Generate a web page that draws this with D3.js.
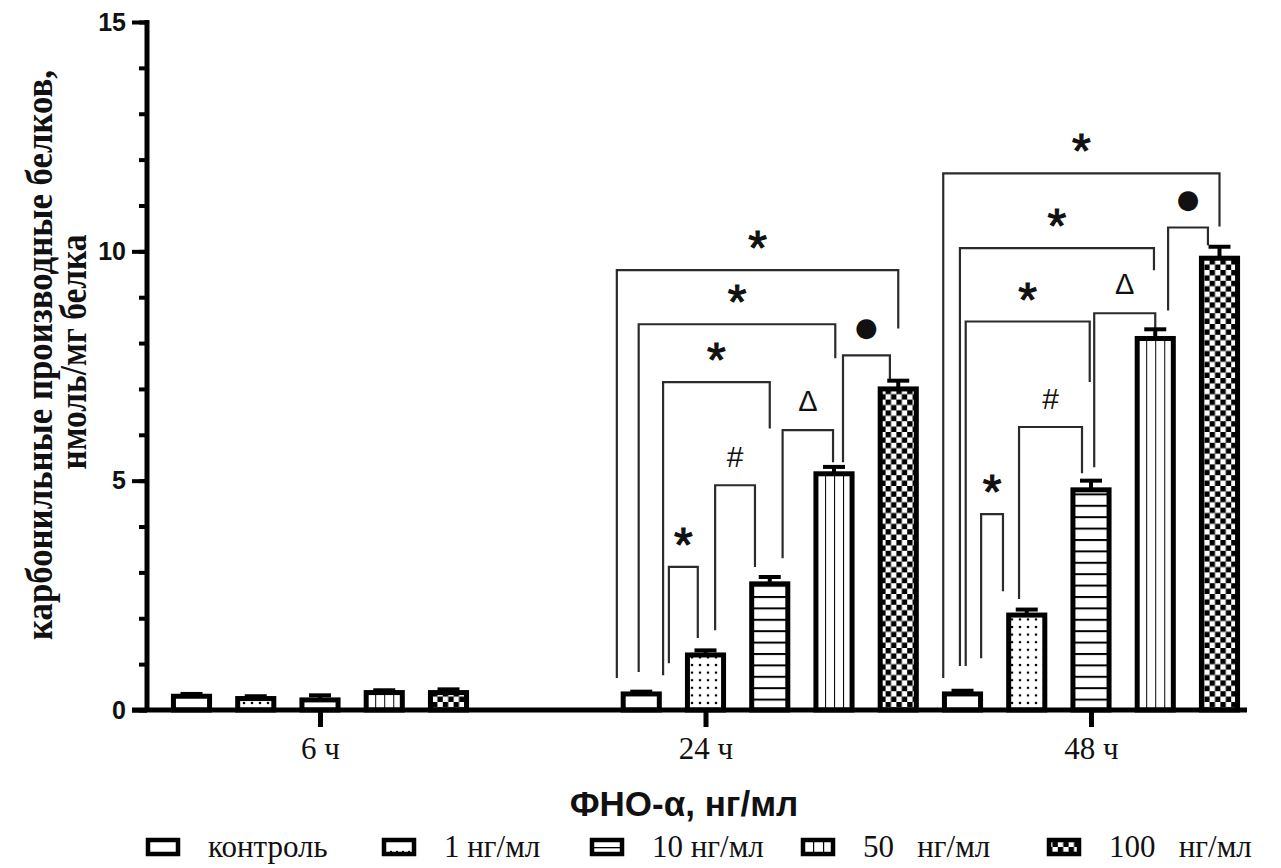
<!DOCTYPE html>
<html>
<head>
<meta charset="utf-8">
<script src="https://cdn.jsdelivr.net/npm/d3@7"></script>
<style>
  body { margin: 0; background: #fff; }
  svg { display: block; }
</style>
</head>
<body>
<div id="chart"></div>
<script>
// time points and doses
const timePoints = ["6 ч", "24 ч", "48 ч"];
const doses = ["контроль", "1 нг/мл", "10 нг/мл", "50 нг/мл", "100 нг/мл"];
const legendLabels = ["контроль", "1 нг/мл", "10 нг/мл", "50   нг/мл", "100   нг/мл"];

// mean values, dose order
const means6 = [0.30, 0.25, 0.22, 0.38, 0.38];
const means24 = [0.35, 1.20, 2.75, 5.15, 7.00];
const means48 = [0.35, 2.07, 4.80, 8.10, 9.85];

// error (upper only)
const errs6 = [0.05, 0.05, 0.10, 0.05, 0.07];
const errs24 = [0.05, 0.10, 0.15, 0.15, 0.18];
const errs48 = [0.07, 0.12, 0.20, 0.20, 0.25];

const yTicks = [0, 5, 10, 15];

// significance brackets: from slot, to slot, top, left leg end, right leg end, mark
const brackets = [
  [6.62, 11.00, 9.59, 0.70, 8.32, "*"],
  [6.96, 10.02, 8.41, 0.83, 7.67, "*"],
  [7.34, 9.00, 7.15, 0.76, 6.14, "*"],
  [7.43, 7.88, 3.12, 1.02, 1.57, "*"],
  [8.15, 8.77, 4.90, 1.74, 3.12, "#"],
  [9.20, 9.985, 6.10, 3.31, 5.40, "Δ"],
  [10.14, 10.87, 7.73, 5.40, 7.15, "●"],
  [11.70, 16.00, 11.70, 0.70, 10.54, "*"],
  [11.96, 14.98, 10.07, 0.96, 9.59, "*"],
  [12.05, 13.98, 8.47, 0.96, 7.15, "*"],
  [12.29, 12.63, 4.27, 1.13, 2.59, "*"],
  [12.88, 13.86, 6.17, 2.42, 5.16, "#"],
  [14.05, 15.00, 8.65, 5.29, 8.32, "Δ"],
  [15.20, 15.82, 10.52, 8.71, 10.13, "●"]
];

// layout: bar slot where each group starts, and slot of its axis tick
const groupStart = [0, 7, 12];
const tickSlot = [2, 8, 14];

const allMeans = [means6, means24, means48];
const allErrs = [errs6, errs24, errs48];
const fills = ["#fff", "url(#dots)", "url(#hlines)", "url(#vlines)", "url(#checker)"];
const legendFills = ["#fff", "url(#dotsL)", "url(#hlinesL)", "url(#vlinesL)", "url(#checker)"];

const bars = [];
timePoints.forEach((t, g) => {
  doses.forEach((d, i) => {
    bars.push({ time: t, dose: d, di: i, slot: groupStart[g] + i, value: allMeans[g][i], err: allErrs[g][i] });
  });
});

const width = 1281, height = 868;
const svg = d3.select("#chart").append("svg")
  .attr("width", width).attr("height", height)
  .style("background", "#fff");

// patterns
const defs = svg.append("defs");
const dots = defs.append("pattern").attr("id", "dots")
  .attr("patternUnits", "userSpaceOnUse").attr("width", 8).attr("height", 7.6);
dots.append("rect").attr("width", 8).attr("height", 7.6).attr("fill", "#fff");
dots.append("circle").attr("cx", 4).attr("cy", 3.8).attr("r", 1.3).attr("fill", "#000");

const dotsL = defs.append("pattern").attr("id", "dotsL")
  .attr("patternUnits", "userSpaceOnUse").attr("width", 6).attr("height", 20).attr("y", 839);
dotsL.append("rect").attr("width", 6).attr("height", 20).attr("fill", "#fff");
dotsL.append("circle").attr("cx", 3).attr("cy", 6).attr("r", 1.2).attr("fill", "#000");

const hl = defs.append("pattern").attr("id", "hlines")
  .attr("patternUnits", "userSpaceOnUse").attr("width", 10).attr("height", 11.4)
  .attr("y", 710);
hl.append("rect").attr("width", 10).attr("height", 11.4).attr("fill", "#fff");
hl.append("rect").attr("y", 0).attr("width", 10).attr("height", 2).attr("fill", "#000");

const hlL = defs.append("pattern").attr("id", "hlinesL")
  .attr("patternUnits", "objectBoundingBox").attr("width", 1).attr("height", 0.5);
hlL.append("rect").attr("width", 60).attr("height", 60).attr("fill", "#fff");
hlL.append("rect").attr("y", -1.2).attr("width", 60).attr("height", 2.5).attr("fill", "#000");

const vl = defs.append("pattern").attr("id", "vlines")
  .attr("patternUnits", "objectBoundingBox").attr("width", 0.25).attr("height", 1);
vl.append("rect").attr("width", 20).attr("height", 800).attr("fill", "#fff");
vl.append("rect").attr("x", -1).attr("width", 2).attr("height", 800).attr("fill", "#000");

const vlL = defs.append("pattern").attr("id", "vlinesL")
  .attr("patternUnits", "objectBoundingBox").attr("width", 1 / 3).attr("height", 1);
vlL.append("rect").attr("width", 20).attr("height", 60).attr("fill", "#fff");
vlL.append("rect").attr("x", -1.2).attr("width", 2.4).attr("height", 60).attr("fill", "#000");

const ck = defs.append("pattern").attr("id", "checker")
  .attr("patternUnits", "userSpaceOnUse").attr("width", 10.8).attr("height", 10.8);
ck.append("rect").attr("width", 10.8).attr("height", 10.8).attr("fill", "#fff");
ck.append("rect").attr("width", 5.4).attr("height", 5.4).attr("fill", "#000");
ck.append("rect").attr("x", 5.4).attr("y", 5.4).attr("width", 5.4).attr("height", 5.4).attr("fill", "#000");

// scales
const x = d3.scaleLinear().domain([0, 16]).range([191.5, 1219.5]);
const y = d3.scaleLinear().domain([0, 15]).range([710, 22]);
const step = x(1) - x(0);
const barW = step * 0.64;
const yAxisX = 147;

// brackets (drawn under bars)
const bracketG = svg.append("g").attr("fill", "none").attr("stroke", "#2b2b2b").attr("stroke-width", 2.2);
brackets.forEach(b => {
  const [s1, s2, top, e1, e2] = b;
  bracketG.append("path")
    .attr("d", `M${x(s1)},${y(e1)}V${y(top)}H${x(s2)}V${y(e2)}`);
});
const markDy = { "*": 22, "#": 10, "Δ": 9, "●": 9 };
const markFont = { "*": "Liberation Sans", "#": "Liberation Sans", "Δ": "Liberation Sans", "●": "DejaVu Sans" };
const markSize = { "*": 48, "#": 30, "Δ": 29, "●": 26 };
svg.append("g").selectAll("text")
  .data(brackets)
  .enter().append("text")
  .attr("x", d => x((d[0] + d[1]) / 2))
  .attr("y", d => y(d[2]) - 28 + markDy[d[5]])
  .attr("text-anchor", "middle")
  .attr("font-family", d => markFont[d[5]])
  .attr("font-size", d => markSize[d[5]])
  .attr("stroke", d => d[5] === "*" ? "#111" : "none")
  .attr("stroke-width", 1.2)
  .attr("fill", "#111")
  .text(d => d[5]);

// bars
const bw = 5;
svg.append("g").selectAll("rect")
  .data(bars)
  .enter().append("rect")
  .attr("x", d => x(d.slot) - barW / 2 + bw / 2)
  .attr("y", d => y(d.value))
  .attr("width", barW - bw)
  .attr("height", d => y(0) - y(d.value))
  .attr("fill", d => fills[d.di])
  .attr("stroke", "#000")
  .attr("stroke-width", bw);

// error bars
const eb = svg.append("g").attr("stroke", "#000").attr("stroke-width", 4);
eb.selectAll("line.stem")
  .data(bars)
  .enter().append("line")
  .attr("class", "stem")
  .attr("x1", d => x(d.slot)).attr("x2", d => x(d.slot))
  .attr("y1", d => y(d.value)).attr("y2", d => y(d.value + d.err));
eb.selectAll("line.cap")
  .data(bars)
  .enter().append("line")
  .attr("class", "cap")
  .attr("x1", d => x(d.slot) - 11).attr("x2", d => x(d.slot) + 11)
  .attr("y1", d => y(d.value + d.err)).attr("y2", d => y(d.value + d.err));

// x axis
const xAxis = svg.append("g")
  .attr("transform", `translate(0,${y(0)})`)
  .call(d3.axisBottom(x).tickValues(tickSlot).tickSize(17).tickPadding(10)
    .tickFormat((d, i) => timePoints[i]));
xAxis.select(".domain").remove();
xAxis.selectAll(".tick line").attr("stroke", "#000").attr("stroke-width", 5);
xAxis.selectAll(".tick text")
  .attr("font-family", "Liberation Serif")
  .attr("font-size", 31)
  .attr("fill", "#111");
xAxis.append("line")
  .attr("x1", 132).attr("x2", 1247)
  .attr("stroke", "#000").attr("stroke-width", 5);

// y axis: minor ticks every 1, major ticks with labels
const yMinor = svg.append("g")
  .attr("transform", `translate(${yAxisX},0)`)
  .call(d3.axisLeft(y).tickValues(d3.range(0, 16)).tickSize(8).tickSizeOuter(0).tickFormat(""));
yMinor.select(".domain").remove();
yMinor.selectAll(".tick line").attr("stroke", "#000").attr("stroke-width", 4);

const yMajor = svg.append("g")
  .attr("transform", `translate(${yAxisX},0)`)
  .call(d3.axisLeft(y).tickValues(yTicks).tickSize(15).tickSizeOuter(0).tickPadding(6));
yMajor.select(".domain").remove();
yMajor.selectAll(".tick line").attr("stroke", "#000").attr("stroke-width", 4);
yMajor.selectAll(".tick text")
  .attr("font-family", "Liberation Sans")
  .attr("font-weight", "bold")
  .attr("font-size", 25)
  .attr("fill", "#111");
svg.append("line")
  .attr("x1", yAxisX).attr("x2", yAxisX)
  .attr("y1", y(15) - 2).attr("y2", y(0))
  .attr("stroke", "#000").attr("stroke-width", 5);

// axis titles
svg.append("text")
  .attr("x", 684).attr("y", 816)
  .attr("text-anchor", "middle")
  .attr("font-family", "Liberation Sans")
  .attr("font-weight", "bold")
  .attr("font-size", 35)
  .attr("fill", "#111")
  .text("ФНО-α, нг/мл");

svg.append("text")
  .attr("transform", "translate(52,355) rotate(-90)")
  .attr("text-anchor", "middle")
  .attr("font-family", "Liberation Serif")
  .attr("font-weight", "bold")
  .attr("font-size", 37)
  .attr("textLength", 570)
  .attr("lengthAdjust", "spacingAndGlyphs")
  .attr("fill", "#111")
  .text("карбонильные производные белков,");
svg.append("text")
  .attr("transform", "translate(86,352) rotate(-90)")
  .attr("text-anchor", "middle")
  .attr("font-family", "Liberation Serif")
  .attr("font-weight", "bold")
  .attr("font-size", 37)
  .attr("textLength", 235)
  .attr("lengthAdjust", "spacingAndGlyphs")
  .attr("fill", "#111")
  .text("нмоль/мг белка");

// legend
const legendX = [146, 382, 590, 801, 1047];
const legend = svg.append("g").attr("transform", "translate(0,847)");
const li = legend.selectAll("g")
  .data(legendLabels)
  .enter().append("g")
  .attr("transform", (d, i) => `translate(${legendX[i]},0)`);
li.append("rect")
  .attr("x", 2).attr("y", -7).attr("width", 30).attr("height", 14)
  .attr("fill", (d, i) => legendFills[i])
  .attr("stroke", "#000").attr("stroke-width", 4.5);
li.append("text")
  .attr("x", 62).attr("y", 10)
  .attr("font-family", "Liberation Serif")
  .attr("font-size", 31)
  .attr("fill", "#111")
  .style("white-space", "pre")
  .text(d => d);
</script>
</body>
</html>
